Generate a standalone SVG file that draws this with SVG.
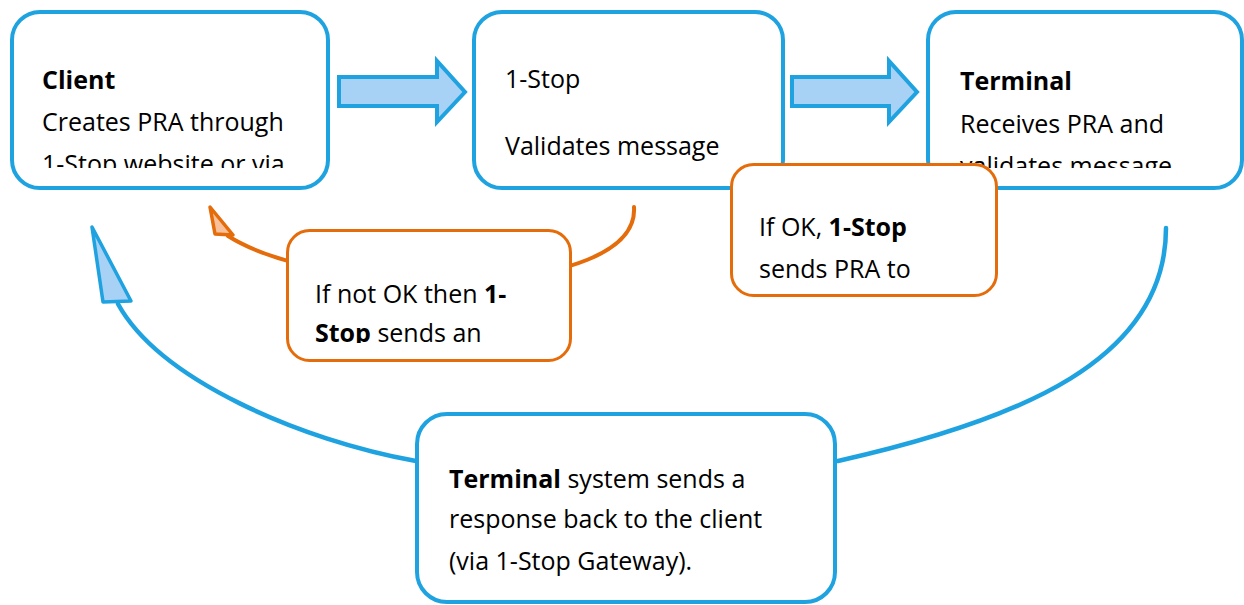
<svg xmlns="http://www.w3.org/2000/svg" width="1244" height="605" viewBox="0 0 1244 605">
<style>
  .bbox { fill: #ffffff; stroke: #1fa2e0; stroke-width: 4; }
  .obox { fill: #ffffff; stroke: #e46c0a; stroke-width: 3; }
  .barrow { fill: #a7d1f5; stroke: #1fa2e0; stroke-width: 4; stroke-linejoin: miter; }
  .bline { fill: none; stroke: #1fa2e0; stroke-width: 4.5; stroke-linecap: round; }
  .oline { fill: none; stroke: #e46c0a; stroke-width: 4; stroke-linecap: round; }
  .bhead { fill: #a7d1f5; stroke: #1fa2e0; stroke-width: 3.5; stroke-linejoin: round; }
  .ohead { fill: #f9c19b; stroke: #e46c0a; stroke-width: 3.5; stroke-linejoin: round; }
  text { font-family: "Open Sans", "Noto Sans", "Liberation Sans", sans-serif; font-size: 25px; fill: #000000; }
  .b { font-weight: bold; }
</style>
<defs>
  <clipPath id="clipClient"><rect x="14" y="14" width="312" height="154"/></clipPath>
  <clipPath id="clipTerminal"><rect x="930" y="14" width="310" height="154"/></clipPath>
  <clipPath id="clipNotOk"><rect x="289" y="232" width="280" height="111"/></clipPath>
  <clipPath id="clipOk"><rect x="733" y="166" width="262" height="119"/></clipPath>
</defs>

<g id="connectors">
  <path class="bline" d="M1166,228 C1166,360 1020,420 838,461 L416,461 C300,440 160,380 118,304"/>
  <polygon class="bhead" points="92,227 103,302 131,301"/>
  <path class="oline" d="M634,207 C640,300 330,300 228,236"/>
  <polygon class="ohead" points="210,207 215,234 233,235"/>
  <path class="barrow" d="M339,77 L437,77 L437,61 L465,92 L437,122 L437,106 L339,106 Z"/>
  <path class="barrow" d="M792,77 L889,77 L889,61 L917,92 L889,122 L889,106 L792,106 Z"/>
</g>

<g id="client">
  <rect class="bbox" x="12" y="12" width="316" height="176" rx="28"/>
  <g clip-path="url(#clipClient)">
    <text x="42" y="89" class="b">Client</text>
    <text x="42" y="131">Creates PRA through</text>
    <text x="42" y="173">1-Stop website or via</text>
  </g>
</g>

<g id="onestop">
  <rect class="bbox" x="474" y="12" width="309" height="176" rx="28"/>
  <text x="505" y="88">1-Stop</text>
  <text x="505" y="155">Validates message</text>
</g>

<g id="terminal">
  <rect class="bbox" x="928" y="12" width="314" height="176" rx="28"/>
  <g clip-path="url(#clipTerminal)">
    <text x="960" y="90" class="b">Terminal</text>
    <text x="960" y="133">Receives PRA and</text>
    <text x="960" y="175">validates message</text>
  </g>
</g>

<g id="ok-note">
  <rect class="obox" x="731.5" y="164.5" width="265" height="131" rx="22"/>
  <g clip-path="url(#clipOk)">
    <text x="759" y="236">If OK, <tspan class="b">1-Stop</tspan></text>
    <text x="759" y="278">sends PRA to</text>
  </g>
</g>

<g id="notok-note">
  <rect class="obox" x="287.5" y="230.5" width="283" height="130" rx="22"/>
  <g clip-path="url(#clipNotOk)">
    <text x="315" y="303">If not OK then <tspan class="b">1-</tspan></text>
    <text x="315" y="342"><tspan class="b">Stop</tspan> sends an</text>
  </g>
</g>

<g id="response">
  <rect class="bbox" x="417" y="414" width="418" height="188" rx="30"/>
  <text x="449" y="488"><tspan class="b">Terminal</tspan> system sends a</text>
  <text x="449" y="528">response back to the client</text>
  <text x="449" y="570">(via 1-Stop Gateway).</text>
</g>
</svg>
